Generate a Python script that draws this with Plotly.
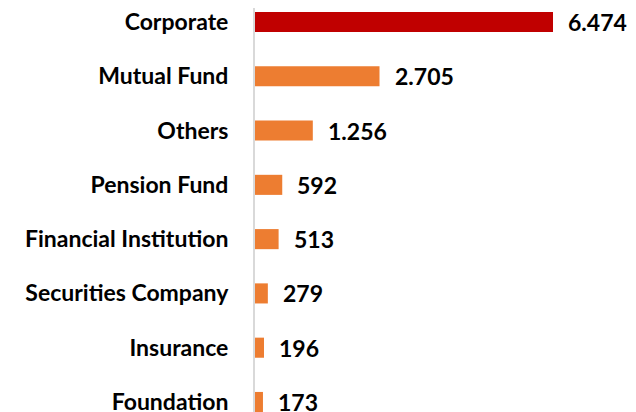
import plotly.graph_objects as go

categories = ["Corporate", "Mutual Fund", "Others", "Pension Fund",
              "Financial Institution", "Securities Company", "Insurance", "Foundation"]
values = [6474, 2705, 1256, 592, 513, 279, 196, 173]
colors = ["#C00000"] + ["#ED7D31"] * 7

labels = [f"{v:,}".replace(",", ".") for v in values]

FONT = "Lato, Liberation Sans Narrow, DejaVu Sans Condensed, sans-serif"

fig = go.Figure(go.Bar(
    x=values, y=categories, orientation="h",
    marker=dict(color=colors, line=dict(width=0)),
    width=0.37,
    hoverinfo="skip",
))

for v, c, t in zip(values, categories, labels):
    fig.add_annotation(x=v, y=c, text=t, showarrow=False, xanchor="left",
                       yanchor="middle", xshift=13,
                       font=dict(family=FONT, size=23, color="#000000", weight="bold"))

# page body adds an 8px offset; margins/ranges compensate for it
fig.update_layout(
    width=636, height=412,
    margin=dict(l=247, r=0, t=0, b=0, autoexpand=False),
    paper_bgcolor="white", plot_bgcolor="white",
    showlegend=False,
    font=dict(family=FONT, size=23, color="#000000"),
    xaxis=dict(range=[0, 8451], visible=False, fixedrange=True, automargin=False),
    yaxis=dict(type="category", range=[7.332, -0.258], automargin=False,
               showline=True, linecolor="#d9d9d9", linewidth=2,
               showgrid=False, zeroline=False, ticks="",
               ticklabelstandoff=20,
               tickfont=dict(family=FONT, size=23, color="#000000", weight="bold")),
)

fig.write_html("out.html")
